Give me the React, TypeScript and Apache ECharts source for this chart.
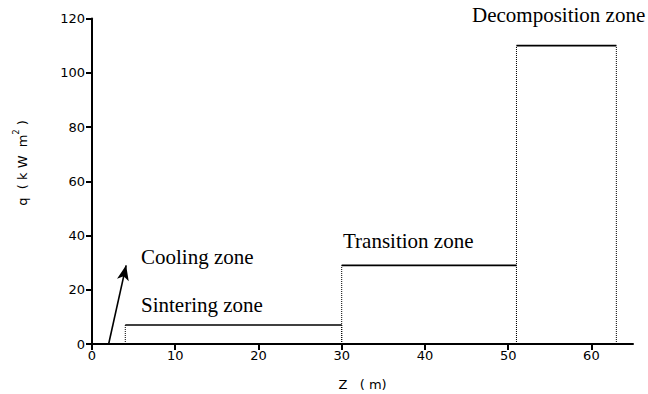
import React, { useEffect, useRef } from "react";
import * as echarts from "echarts";

// Zone heat flux levels (q, kW m^-2) along bed position Z (m)
const zoneNames = ["Sintering zone", "Transition zone", "Decomposition zone"];
const zoneStart = [4, 30, 51];
const zoneEnd = [30, 51, 63];
const zoneQ = [7, 29, 110];

// Cooling zone arrow (from, to)
const arrowFrom = [2, 0];
const arrowTo = [4.1, 29];

const xTicks = [0, 10, 20, 30, 40, 50, 60];

export default function App() {
  const ref = useRef<HTMLDivElement>(null);
  useEffect(() => {
    if (!ref.current) return;
    const chart = echarts.init(ref.current, null, { renderer: "svg" });
    const series: any[] = [];
    zoneQ.forEach((q, i) => {
      series.push({
        type: "line",
        data: [
          [zoneStart[i], q],
          [zoneEnd[i], q],
        ],
        symbol: "none",
        lineStyle: { color: "#000", width: 1.6 },
        silent: true,
      });
      [zoneStart[i], zoneEnd[i]].forEach((x) => {
        series.push({
          type: "line",
          data: [
            [x, 0],
            [x, q],
          ],
          symbol: "none",
          lineStyle: { color: "#000", width: 1, type: [1, 1] },
          silent: true,
        });
      });
    });
    series.push({
      type: "line",
      data: [],
      markLine: {
        silent: true,
        symbol: ["none", "arrow"],
        symbolSize: [9, 15],
        label: { show: false },
        lineStyle: { color: "#000", width: 1.6, type: "solid" },
        data: [[{ coord: arrowFrom }, { coord: arrowTo }]],
      },
    });

    const serif = "'Liberation Serif', 'Times New Roman', serif";
    const sans = "'DejaVu Sans', Arial, sans-serif";
    const zoneFont = `21px ${serif}`;
    chart.setOption({
      animation: false,
      grid: { left: 92, right: 15, top: 18.5, bottom: 50, outerBoundsMode: "none" },
      xAxis: {
        type: "value",
        min: 0,
        max: 65,
        interval: 10,
        name: "Z   ( m)",
        nameLocation: "middle",
        nameGap: 34,
        nameTextStyle: { fontFamily: sans, fontSize: 13, color: "#000" },
        splitLine: { show: false },
        axisLine: { lineStyle: { color: "#000", width: 2 } },
        axisTick: { length: 6, lineStyle: { color: "#000", width: 2 }, customValues: xTicks },
        axisLabel: { color: "#000", fontFamily: sans, fontSize: 13, margin: 5, customValues: xTicks },
      },
      yAxis: {
        type: "value",
        min: 0,
        max: 120,
        interval: 20,
        splitLine: { show: false },
        axisLine: { lineStyle: { color: "#000", width: 2 } },
        axisTick: { length: 6, lineStyle: { color: "#000", width: 2 } },
        axisLabel: { color: "#000", fontFamily: sans, fontSize: 13, margin: 7 },
      },
      graphic: [
        {
          type: "text",
          x: 22,
          y: 163,
          rotation: Math.PI / 2,
          style: {
            text: "q  ( k W  m{sup|2} )",
            font: `13px ${sans}`,
            fill: "#000",
            textAlign: "center",
            textVerticalAlign: "middle",
            rich: { sup: { fontSize: 8, fontFamily: sans, fill: "#000", padding: [0, 0, 12, 0] } },
          },
        },
        { type: "text", x: 141, y: 257, style: { text: "Cooling zone", font: zoneFont, fill: "#000", textVerticalAlign: "middle" } },
        { type: "text", x: 141, y: 305, style: { text: zoneNames[0], font: zoneFont, fill: "#000", textVerticalAlign: "middle" } },
        { type: "text", x: 343, y: 241, style: { text: zoneNames[1], font: zoneFont, fill: "#000", textVerticalAlign: "middle" } },
        { type: "text", x: 472, y: 15, style: { text: zoneNames[2], font: zoneFont, fill: "#000", textVerticalAlign: "middle" } },
      ],
      series,
    });
    return () => chart.dispose();
  }, []);
  return (
    <div
      ref={ref}
      style={{ position: "fixed", left: 0, top: 0, width: 648, height: 394, background: "#fff" }}
    />
  );
}
